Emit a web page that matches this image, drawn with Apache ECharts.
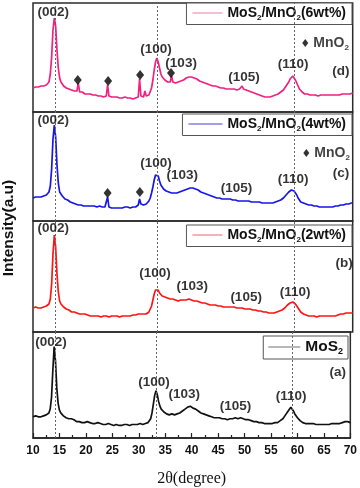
<!DOCTYPE html>
<html><head><meta charset="utf-8">
<script src="https://cdn.jsdelivr.net/npm/echarts@6/dist/echarts.min.js"></script>
<style>html,body{margin:0;padding:0;background:#fff}#c{width:360px;height:488px}</style>
</head><body><div id="c"></div><script>
// 2theta sampling: 10 to 70 step 0.25
const xStart = 10, xStep = 0.25;
const xTickLabels = ['10','15','20','25','30','35','40','45','50','55','60','65','70'];
const refLines = [14.2, 33.3, 59.0];

const mos2 = [
22,21,23,22, 22,24,22,23, 23,22,24,24, 26,30,42,70, 95,80,52,36, 29,26,24,23, 22,21,20,20, 19,20,18,19, 18,17,18,17, 17,16,17,16,
16,17,15,16, 16,15,16,15, 15,16,14,15, 15,14,15,14, 14,15,14,14, 14,13,14,14, 14,13,14,13, 14,14,13,14, 14,13,14,14, 14,14,13,14,
14,15,14,14, 14,15,15,16, 17,20,26,35, 44,49,45,38, 33,30,28,27, 26,25,25,24, 24,25,24,24, 24,25,25,26, 27,28,29,30, 31,32,32,33,
32,31,31,30, 29,28,27,26, 25,25,24,24, 23,23,22,22, 22,21,22,21, 21,21,20,20, 20,20,20,19, 20,20,19,20, 20,21,21,20, 21,21,20,20,
20,19,19,19, 19,18,18,17, 17,17,16,16, 16,16,15,15, 15,15,15,15, 15,15,16,16, 16,16,17,18, 19,20,22,24, 26,28,30,32, 31,28,25,23,
21,19,18,17, 16,16,15,15, 15,15,15,14, 15,14,14,14, 14,14,14,14, 14,14,14,14, 14,14,15,14, 15,15,15,16, 15,16,16,17, 17,17,17,17, 16];

const mos2Mno2_2 = [
24,23,25,24, 24,25,24,25, 25,26,26,27, 28,33,48,78, 97,85,58,40, 31,28,26,25, 24,23,22,22, 21,20,21,20, 19,19,18,18, 18,18,17,18,
17,17,17,16, 17,16,17,16, 16,16,16,15, 16,16,15,16, 16,15,16,16, 16,16,15,16, 16,15,16,16, 16,16,17,16, 17,16,17,17, 17,17,17,18,
17,18,17,18, 18,18,19,20, 22,26,32,38, 42,44,42,39, 37,36,35,35, 34,34,33,33, 32,33,32,32, 32,31,32,32, 32,32,31,32, 32,33,32,32,
32,31,31,31, 31,30,30,29, 29,29,28,28, 28,27,28,27, 27,27,26,26, 26,26,26,25, 26,25,25,25, 25,25,24,25, 25,24,24,24, 24,24,24,23,
24,23,23,23, 23,22,22,22, 22,21,21,21, 21,20,20,20, 20,19,19,19, 19,19,19,20, 20,21,22,22, 23,24,25,27, 28,29,30,30, 29,28,26,24,
22,20,19,18, 17,17,16,16, 16,16,16,16, 16,15,16,16, 16,16,15,16, 16,16,16,16, 16,16,17,16, 17,17,17,18, 18,18,18,19, 19,19,19,19, 19];

const mos2Mno2_4 = [
23,22,24,23, 24,23,24,25, 25,25,26,27, 29,35,52,82, 96,84,56,38, 29,27,25,23, 22,21,21,20, 19,19,18,18, 17,17,16,17, 16,16,15,16,
15,15,15,14, 15,14,15,14, 14,14,15,14, 14,14,14,14, 24,14,14,13, 14,13,14,13, 13,13,14,13, 13,14,13,14, 14,13,14,14, 14,14,15,16,
22,17,16,16, 17,17,19,20, 23,28,34,41, 46,48,45,40, 36,34,32,31, 30,30,29,29, 28,28,28,28, 28,29,29,29, 30,31,31,32, 32,33,33,33,
33,32,32,31, 31,30,29,28, 28,27,27,26, 26,25,25,24, 24,24,23,23, 23,22,22,22, 22,22,22,21, 22,21,21,21, 21,21,20,20, 20,20,20,20,
20,19,20,19, 19,19,19,19, 19,18,19,18, 18,18,18,18, 18,18,18,18, 18,19,19,19, 20,21,21,22, 23,24,26,27, 29,30,31,31, 30,28,26,23,
21,19,18,18, 17,17,16,16, 16,16,15,15, 15,15,15,14, 14,14,14,14, 14,14,14,14, 14,14,14,15, 15,15,15,16, 16,16,16,17, 17,17,17,18, 18];

const mos2Mno2_6 = [
24,23,25,24, 25,24,26,25, 26,25,27,27, 30,38,55,82, 94,86,62,44, 34,30,28,26, 25,24,23,23, 22,22,21,21, 20,21,29,20, 19,20,19,18,
18,18,17,18, 17,17,16,17, 16,16,17,16, 16,15,16,16, 27,16,15,15, 15,15,14,15, 15,14,15,14, 14,15,14,14, 14,14,14,13, 14,14,14,15,
33,16,15,15, 21,16,16,17, 19,24,32,42, 50,54,50,44, 38,35,33,32, 31,30,30,30, 36,30,29,29, 29,30,30,31, 31,32,33,34, 34,35,35,35,
35,34,33,33, 32,31,31,30, 30,29,29,28, 28,27,27,26, 26,26,25,25, 25,24,24,24, 24,23,24,23, 23,23,22,23, 22,22,23,23, 24,26,23,22,
22,21,21,20, 20,19,19,18, 18,17,17,16, 16,16,15,15, 15,15,15,16, 16,16,17,17, 18,19,20,21, 22,24,26,28, 30,33,35,36, 35,32,29,26,
23,21,20,19, 18,18,18,17, 17,17,17,17, 17,17,16,17, 17,17,17,17, 17,17,17,17, 17,17,17,17, 17,18,17,18, 18,18,18,18, 18,19,18,19, 19];

// annotations: [2theta, height, text]
const labelsD = [[13.8,100,'(002)'],[33.1,63,'(100)'],[37.8,49,'(103)'],[49.6,35,'(105)'],[58.8,48,'(110)'],[67.8,41,'(d)']];
const labelsC = [[13.8,101,'(002)'],[33.1,58,'(100)'],[38.0,46,'(103)'],[48.2,33,'(105)'],[58.8,42,'(110)'],[67.8,48,'(c)']];
const labelsB = [[13.8,104,'(002)'],[32.9,59,'(100)'],[39.9,46,'(103)'],[50.0,35,'(105)'],[59.2,40,'(110)'],[68.4,69,'(b)']];
const labelsA = [[13.4,99,'(002)'],[32.9,58,'(100)'],[38.6,45,'(103)'],[48.3,33,'(105)'],[58.8,43,'(110)'],[67.6,68,'(a)']];
const diamondsD = [[18.4,32],[24.1,31],[30.1,37],[35.9,39]];
const diamondsC = [[24.0,28],[30.05,29]];
const mno2KeyD = [[61.1,69]];
const mno2KeyC = [[61.3,68]];

const FONT = 'Liberation Sans, Arial, sans-serif';
const legendRich = {
  t:{fontFamily:FONT, fontWeight:'bold', fontSize:14, color:'#111', lineHeight:17, verticalAlign:'middle'},
  s:{fontFamily:FONT, fontWeight:'bold', fontSize:8, color:'#111', lineHeight:17, verticalAlign:'bottom'},
  T:{fontFamily:FONT, fontWeight:'bold', fontSize:15.5, color:'#111', lineHeight:18, verticalAlign:'middle'},
  S:{fontFamily:FONT, fontWeight:'bold', fontSize:9, color:'#111', lineHeight:18, verticalAlign:'bottom'}
};
const legendText = {
  'MoS2/MnO2(6wt%)':'{t|MoS}{s|2}{t|/MnO}{s|2}{t|(6wt%)}',
  'MoS2/MnO2(4wt%)':'{t|MoS}{s|2}{t|/MnO}{s|2}{t|(4wt%)}',
  'MoS2/MnO2(2wt%)':'{t|MoS}{s|2}{t|/MnO}{s|2}{t|(2wt%)}',
  'MoS2':'{T|MoS}{S|2}'
};

const panels = [
  {name:'MoS2/MnO2(6wt%)', data:mos2Mno2_6, color:'#f2207f', legendColor:'#f39ac0', top:3, height:109, labels:labelsD, diamonds:diamondsD, key:mno2KeyD, legendTop:3, legendRight:8, itemW:30, pad:[3,6]},
  {name:'MoS2/MnO2(4wt%)', data:mos2Mno2_4, color:'#1616e8', legendColor:'#7f7fe6', top:112, height:109, labels:labelsC, diamonds:diamondsC, key:mno2KeyC, legendTop:114, legendRight:8, itemW:34, pad:[3,6]},
  {name:'MoS2/MnO2(2wt%)', data:mos2Mno2_2, color:'#ff1414', legendColor:'#f08890', top:221, height:111, labels:labelsB, diamonds:[], key:[], legendTop:225, legendRight:8, itemW:30, pad:[3,6]},
  {name:'MoS2', data:mos2, color:'#111111', legendColor:'#a0a0a0', top:332, height:110, labels:labelsA, diamonds:[], key:[], legendTop:336, legendRight:12, itemW:32, pad:[3,5]}
];

const grid=[], xAxis=[], yAxis=[], series=[], legend=[];
panels.forEach((p,i)=>{
  const last = i===panels.length-1;
  grid.push({left:33, right:7.3, top:p.top, height:p.height, show:true, borderColor:'#2a2a2a', borderWidth:1.5, backgroundColor:'transparent'});
  xAxis.push({type:'value', gridIndex:i, min:10, max:70, interval:5,
    axisLine:{show:last, lineStyle:{color:'#222', width:1.5}},
    axisTick:{show:last, inside:true, length:5, lineStyle:{color:'#222', width:1.2}},
    minorTick:{show:last, splitNumber:2, length:3, lineStyle:{color:'#222', width:1.2}},
    splitLine:{show:false},
    axisLabel:{show:last, margin:7, fontFamily:FONT, fontWeight:'bold', fontSize:12, color:'#111',
      formatter:v=>xTickLabels[Math.round((v-10)/5)]},
    name:last?'2θ(degree)':'', nameLocation:'middle', nameGap:33,
    nameTextStyle:{fontFamily:'Liberation Serif, Times New Roman, serif', fontSize:16, color:'#111'}
  });
  yAxis.push({type:'value', gridIndex:i, min:0, max:p.height, show:false});
  series.push({type:'line', name:p.name, xAxisIndex:i, yAxisIndex:i, symbol:'none', showSymbol:false,
    lineStyle:{color:p.color, width:1.7}, itemStyle:{color:p.color}, silent:true, z:3,
    data:p.data.map((v,k)=>[xStart+k*xStep, v]),
    markLine:{silent:true, symbol:['none','none'], label:{show:false},
      lineStyle:{color:'#666', width:1, type:[2,2]},
      data:refLines.map(v=>({xAxis:v}))}
  });
  series.push({type:'scatter', xAxisIndex:i, yAxisIndex:i, symbolSize:0, silent:true, z:5,
    data:p.labels.map(l=>({value:[l[0],l[1]], name:l[2]})),
    label:{show:true, position:'inside', formatter:q=>q.name, fontFamily:FONT, fontWeight:'bold', fontSize:13.5, color:'#000'}
  });
  if(p.diamonds.length){
    series.push({type:'scatter', xAxisIndex:i, yAxisIndex:i, symbol:'diamond', symbolSize:[8,10], silent:true, z:5,
      itemStyle:{color:'#000'}, data:p.diamonds});
  }
  if(p.key.length){
    series.push({type:'scatter', xAxisIndex:i, yAxisIndex:i, symbol:'diamond', symbolSize:[6,8], silent:true, z:5,
      itemStyle:{color:'#000'}, data:p.key,
      label:{show:true, position:'right', distance:5, formatter:'{t|MnO}{s|2}', rich:legendRich}});
  }
  legend.push({data:[{name:p.name, icon:'rect'}], top:p.legendTop, right:p.legendRight, orient:'horizontal',
    itemWidth:p.itemW, itemHeight:1.3, padding:p.pad, borderColor:'#555', borderWidth:1, backgroundColor:'#fff',
    selectedMode:false,
    itemStyle:{color:p.legendColor, borderWidth:0},
    lineStyle:{width:0},
    formatter:n=>legendText[n], textStyle:{rich:legendRich}});
});

const chart = echarts.init(document.getElementById('c'), null, {renderer:'canvas'});
chart.setOption({
  animation:false, backgroundColor:'#fff',
  grid, xAxis, yAxis, series, legend,
  graphic:[{type:'text', x:8.5, y:228, rotation:Math.PI/2,
    style:{text:'Intensity(a.u)', fontFamily:FONT, fontWeight:'bold', fontSize:15.5, fill:'#111', align:'center', verticalAlign:'middle'}}]
});
</script></body></html>
